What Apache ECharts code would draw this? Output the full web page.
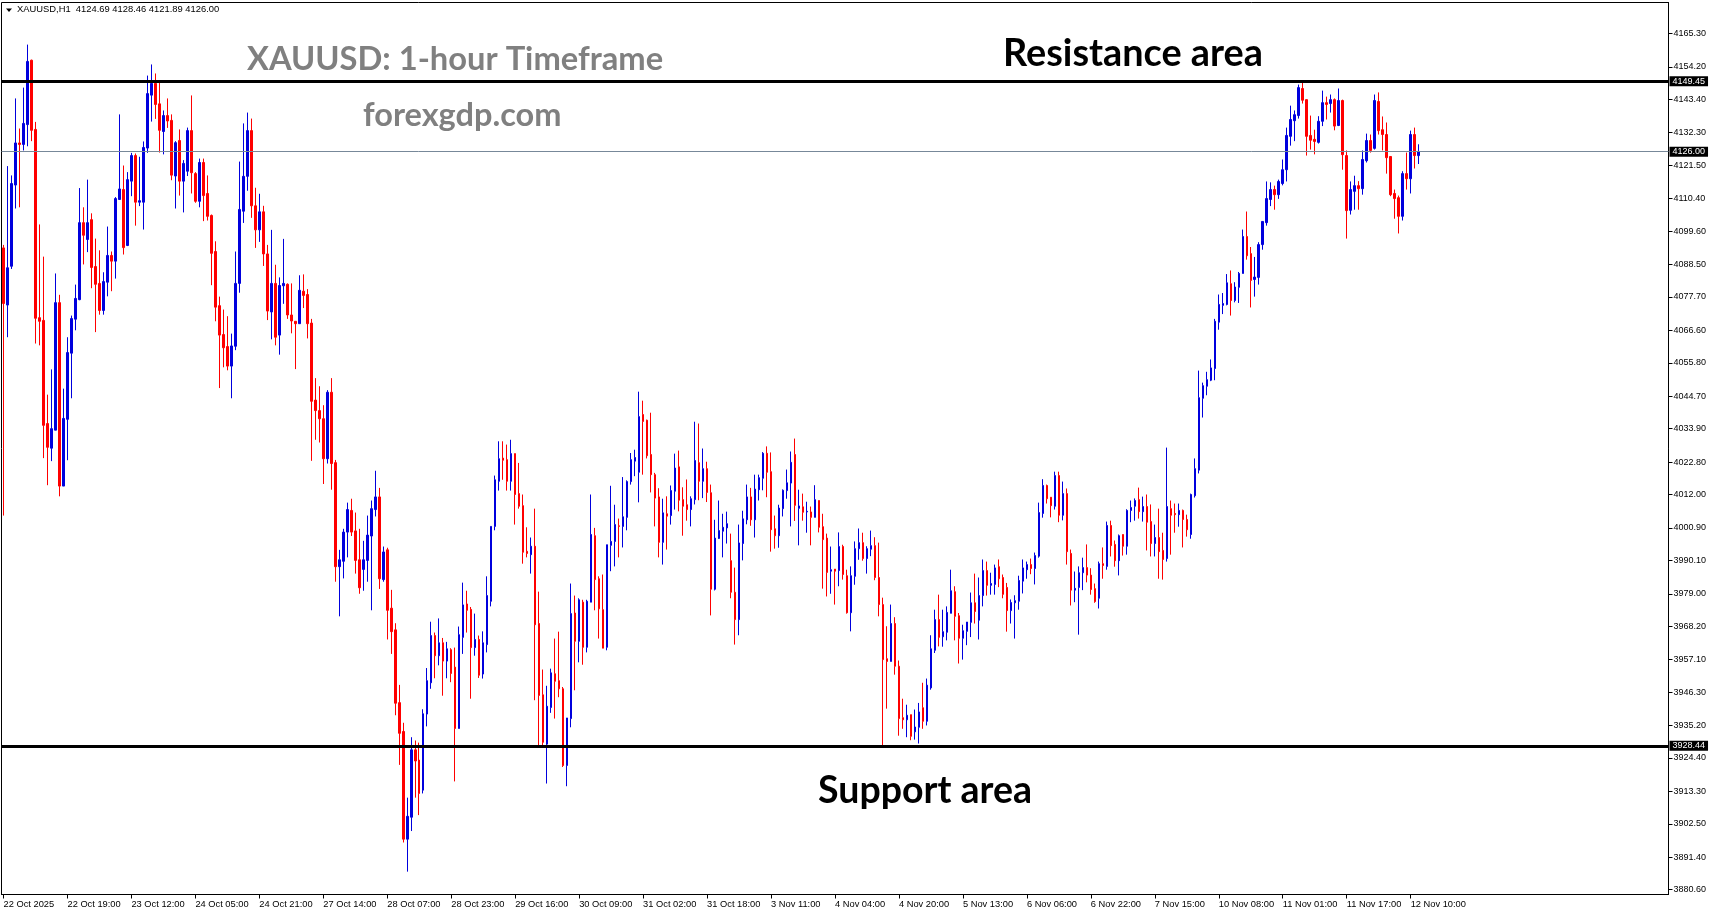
<!DOCTYPE html>
<html><head><meta charset="utf-8">
<script src="https://cdn.jsdelivr.net/npm/echarts@6/dist/echarts.min.js"></script>
<style>html,body{margin:0;padding:0;background:#fff;overflow:hidden}#c{width:1714px;height:915px}</style>
</head><body><div id="c"></div>
<script>
const opens = [
4094.0,4075.0,4087.9,4114.9,4128.9,4128.4,4135.0,4156.4,4133.4,4070.8,
4069.9,4035.6,4027.4,4033.4,4075.8,4014.8,4037.0,4059.0,4070.3,4076.8,
4102.4,4096.8,4103.4,4087.8,4082.2,4073.2,4082.6,4091.5,4089.6,4110.1,
4113.4,4094.8,4116.2,4124.7,4109.2,4109.2,4127.2,4144.8,4148.7,4141.9,
4132.7,4138.0,4136.4,4117.9,4129.7,4116.2,4119.5,4133.0,4118.7,4109.5,
4122.4,4112.1,4104.8,4092.8,4074.8,4065.2,4061.2,4054.7,4061.3,4082.2,
4106.2,4117.8,4133.0,4108.0,4100.0,4106.0,4092.0,4072.7,4082.2,4065.0,
4081.4,4081.9,4071.7,4069.6,4068.8,4079.6,4078.5,4069.0,4043.4,4039.9,
4037.2,4023.9,4046.0,4022.6,3988.0,3989.8,3999.5,4006.7,3999.9,3990.3,
3987.1,3990.1,3998.2,4007.0,4011.2,3983.7,3993.6,3974.2,3967.0,3942.8,
3933.2,3897.4,3904.7,3927.1,3923.7,3913.7,3939.0,3949.4,3965.1,3958.4,
3962.7,3956.6,3960.4,3954.6,3934.2,3964.5,3975.6,3973.8,3961.1,3963.8,
3952.3,3962.1,3976.5,4001.4,4016.4,4024.1,4023.6,4016.4,4025.6,4012.3,
4008.3,3993.1,3992.0,3994.8,3969.1,3945.4,3929.0,3941.2,3952.4,3950.1,
3947.4,3921.9,3937.5,3972.6,3963.2,3976.2,3961.2,3976.2,3998.3,3984.0,
3973.7,3961.2,3995.1,3996.4,4001.6,4001.4,4004.4,4016.3,4023.1,4019.4,
4038.6,4036.7,4025.3,4018.6,4011.2,3996.1,4005.6,4005.0,4013.1,4021.2,
4010.3,4008.6,4007.0,4010.3,4022.6,4016.4,4020.6,4012.6,3980.5,3997.4,
3999.8,4000.9,3990.0,3979.5,3970.4,3995.7,4003.6,4011.2,4003.6,4013.6,
4017.4,4025.7,4019.6,4000.6,3998.3,4007.3,4013.3,4015.8,4025.3,4007.4,
4007.9,4006.2,4006.2,4004.4,4010.0,4001.3,3997.5,3986.5,3987.2,3986.7,
3994.7,3985.0,3972.7,3984.8,3994.0,3996.0,3990.7,3993.8,3995.0,3984.4,
3975.4,3957.4,3956.5,3969.1,3954.9,3937.8,3937.1,3938.8,3933.1,3934.6,
3941.1,3936.6,3947.7,3960.2,3970.4,3964.7,3966.2,3972.5,3979.7,3971.7,
3964.2,3966.5,3969.5,3976.0,3970.2,3978.4,3986.7,3981.8,3982.1,3988.0,
3984.4,3981.1,3973.4,3976.0,3976.5,3983.2,3987.0,3988.7,3987.4,3991.5,
4005.7,4015.0,4011.1,4008.1,4018.3,4005.1,4012.3,3992.4,3980.2,3981.1,
3986.0,3987.7,3985.2,3980.7,3977.5,3989.0,3988.1,4001.7,3995.4,3990.0,
3998.7,3994.8,4006.7,4008.1,4010.3,4006.3,4008.0,4003.0,3995.7,3997.7,
3993.4,3990.7,4007.3,4005.7,4005.3,4006.7,4003.7,3998.7,4011.6,4020.1,
4044.0,4048.0,4050.0,4053.9,4069.3,4074.9,4075.2,4082.1,4076.5,4080.9,
4085.5,4097.8,4092.1,4083.5,4084.2,4095.1,4102.4,4110.1,4113.4,4111.7,
4115.4,4120.0,4131.1,4136.3,4138.0,4147.0,4143.3,4131.4,4130.1,4129.1,
4136.1,4142.3,4142.0,4143.3,4134.7,4143.0,4124.7,4106.5,4112.8,4114.7,
4113.7,4123.0,4129.7,4127.1,4142.7,4133.3,4131.7,4124.4,4112.1,4110.7,
4104.5,4118.7,4117.0,4131.7,4124.69];
const closes = [
4075.5,4087.4,4115.4,4128.9,4128.4,4135.4,4156.0,4133.1,4070.6,4069.6,
4035.0,4027.7,4033.9,4075.8,4014.8,4037.3,4059.2,4070.5,4077.2,4102.4,
4098.2,4102.4,4087.5,4081.9,4073.2,4082.8,4091.5,4089.6,4110.4,4113.6,
4094.1,4116.7,4124.7,4109.2,4109.7,4127.4,4145.3,4148.7,4141.7,4133.1,
4138.0,4136.2,4118.2,4129.0,4116.2,4122.1,4133.0,4119.0,4109.5,4122.4,
4111.4,4104.5,4092.2,4074.3,4065.0,4060.8,4054.7,4061.4,4082.2,4106.8,
4117.8,4133.0,4108.0,4100.0,4106.0,4092.0,4073.0,4082.2,4064.3,4081.5,
4082.2,4071.7,4069.7,4068.8,4079.9,4078.2,4068.8,4043.0,4039.9,4037.2,
4023.9,4046.0,4022.3,3988.0,3990.3,3999.5,4007.0,3999.5,3990.1,3981.0,
3990.3,3998.5,4007.3,4011.2,3984.0,3992.9,3973.5,3966.4,3942.6,3932.6,
3897.4,3905.0,3927.1,3923.4,3912.6,3939.1,3950.1,3965.1,3958.4,3962.7,
3956.6,3960.7,3952.5,3934.2,3965.4,3975.3,3973.5,3961.1,3963.8,3951.9,
3962.7,3978.4,4001.4,4016.9,4023.9,4023.4,4016.4,4025.6,4012.0,4008.1,
3992.8,3992.4,3994.8,3968.7,3945.2,3929.6,3941.6,3952.7,3949.9,3947.4,
3921.9,3937.7,3972.4,3963.2,3977.0,3961.2,3976.5,3998.7,3983.7,3974.0,
3960.9,3995.3,3996.4,4002.0,4001.4,4004.6,4016.3,4023.6,4024.3,4037.9,
4036.3,4024.9,4018.6,4010.8,3996.1,4005.9,4004.8,4013.3,4020.8,4010.1,
4008.1,4007.0,4010.6,4023.3,4016.4,4020.6,4012.7,3980.5,3997.5,4000.0,
4001.1,4002.3,3979.5,3970.4,3995.9,4003.9,4011.2,4003.6,4013.8,4017.6,
4025.7,4019.4,4000.3,3998.3,4007.5,4013.4,4015.9,4022.7,4008.4,4008.2,
4006.1,4006.4,4004.4,4010.3,4001.1,3997.0,3986.1,3987.0,3986.5,3994.7,
3985.4,3972.7,3985.0,3994.0,3996.0,3990.7,3994.0,3995.0,3984.4,3975.4,
3957.1,3956.5,3969.1,3954.9,3937.5,3937.1,3938.6,3931.6,3934.7,3939.7,
3936.6,3948.6,3960.7,3970.4,3964.5,3966.4,3972.8,3980.0,3971.5,3964.2,
3966.7,3969.6,3976.0,3973.1,3978.4,3986.7,3981.8,3982.4,3987.6,3984.0,
3978.8,3973.4,3976.1,3976.7,3983.4,3987.6,3988.7,3987.4,3991.7,4006.0,
4015.0,4010.6,4008.3,4018.3,4005.1,4012.3,3993.0,3980.2,3980.8,3986.0,
3987.7,3985.2,3980.4,3976.4,3989.0,3988.4,4001.7,3995.0,3990.0,3998.3,
3994.8,4006.7,4007.7,4010.0,4006.3,4008.0,4002.8,3995.7,3997.7,3993.0,
3990.4,4008.0,4005.1,4005.3,4006.7,4003.7,4000.3,4012.0,4020.6,4044.2,
4048.2,4050.2,4054.1,4069.6,4075.2,4075.5,4082.4,4076.5,4081.0,4085.5,
4097.8,4091.4,4083.2,4084.3,4095.1,4102.8,4110.4,4113.4,4111.7,4116.1,
4120.0,4131.4,4136.7,4138.3,4147.3,4143.1,4131.1,4129.8,4129.4,4136.1,
4142.3,4141.7,4143.3,4134.5,4143.0,4125.0,4106.4,4113.4,4114.7,4113.7,
4123.4,4129.7,4126.4,4143.0,4133.0,4131.7,4124.0,4111.7,4110.4,4104.5,
4118.7,4117.0,4131.7,4124.7,4126.00];
const lows = [
4005.0,4064.3,4087.0,4107.1,4107.5,4126.4,4127.8,4129.5,4062.2,4061.6,
4024.1,4015.1,4023.1,4033.4,4011.4,4014.8,4023.4,4044.0,4066.6,4076.6,
4088.5,4092.6,4080.6,4066.0,4071.8,4071.8,4077.9,4079.6,4083.8,4110.1,
4091.8,4094.6,4111.2,4101.4,4107.9,4100.1,4125.6,4136.0,4136.9,4125.7,
4125.1,4133.9,4116.5,4107.1,4111.4,4105.8,4117.9,4112.1,4109.0,4107.5,
4102.9,4103.1,4081.6,4069.6,4047.4,4054.3,4053.3,4044.0,4060.0,4079.1,
4102.3,4113.0,4104.0,4094.0,4096.0,4088.0,4070.0,4063.6,4061.6,4058.5,
4075.4,4070.4,4065.6,4053.7,4068.8,4074.0,4063.9,4023.2,4030.2,4029.3,
4015.5,4022.3,4013.6,3983.0,3971.5,3984.1,3991.1,3998.2,3985.7,3979.0,
3980.0,3983.0,3973.5,4004.7,3980.6,3983.0,3963.8,3959.0,3938.6,3922.1,
3896.3,3886.6,3900.1,3911.2,3905.4,3912.6,3934.9,3947.4,3950.9,3955.2,
3945.1,3950.9,3949.6,3916.6,3934.2,3959.0,3966.1,3944.1,3958.4,3951.0,
3950.8,3959.5,3974.8,4000.1,4013.3,4016.9,4013.3,4013.3,4002.0,4007.3,
3989.0,3991.1,3985.7,3943.6,3928.3,3928.3,3915.9,3939.4,3937.5,3944.6,
3921.4,3915.0,3934.6,3946.9,3956.2,3955.4,3959.5,3976.2,3973.5,3964.1,
3960.9,3960.2,3986.5,3988.1,3991.1,3994.4,4000.1,4015.3,4018.1,4009.4,
4018.6,4024.0,4012.7,4001.4,3991.1,3988.7,3993.7,4002.0,4007.0,4006.4,
3998.3,4003.3,4001.4,4008.7,4010.1,4010.8,4009.5,3971.8,3980.1,3997.2,
3991.1,3995.7,3977.5,3962.1,3965.2,3990.1,4002.1,4001.6,3997.7,4010.0,
4013.4,4011.1,3993.0,3994.0,3994.3,4004.7,4010.6,4001.4,4003.2,3995.1,
4003.3,3999.3,3995.1,4004.4,3999.4,3980.7,3978.1,3979.0,3975.4,3981.5,
3983.7,3972.4,3966.5,3982.0,3990.3,3990.0,3985.7,3991.5,3983.5,3971.5,
3928.3,3940.8,3956.5,3952.1,3931.8,3934.1,3931.3,3930.3,3930.5,3929.2,
3934.1,3935.2,3947.1,3959.3,3961.5,3961.4,3963.5,3972.5,3963.5,3955.8,
3957.1,3961.9,3964.6,3969.1,3963.8,3974.8,3978.4,3978.7,3978.7,3981.2,
3977.5,3966.4,3969.1,3964.1,3973.7,3979.1,3984.0,3985.5,3982.1,3991.0,
4004.3,4009.0,4004.4,4007.0,4002.8,4003.4,3988.7,3975.1,3976.2,3965.4,
3980.2,3982.8,3978.7,3976.0,3974.1,3984.0,3987.0,3991.4,3988.0,3985.1,
3991.7,3992.0,4002.8,4003.3,4004.0,4003.0,3993.4,3991.4,3991.4,3984.0,
3983.7,3989.7,3992.0,3999.3,4001.3,3994.4,3998.0,3997.3,4011.0,4019.0,
4037.6,4045.0,4049.7,4050.0,4066.8,4072.0,4074.9,4071.5,4075.9,4075.7,
4085.5,4090.1,4074.2,4077.8,4081.8,4093.4,4101.4,4107.9,4106.7,4110.3,
4114.8,4116.1,4128.0,4129.5,4137.0,4142.0,4124.7,4126.7,4125.1,4128.7,
4134.5,4136.7,4139.0,4133.1,4134.5,4120.0,4097.1,4105.1,4106.7,4106.7,
4111.7,4122.4,4125.7,4126.7,4131.7,4126.4,4118.7,4111.2,4103.7,4098.8,
4103.1,4113.4,4112.1,4120.4,4121.89];
const highs = [
4095.0,4121.2,4118.1,4143.7,4133.7,4147.3,4161.6,4156.6,4135.9,4101.8,
4091.1,4045.2,4053.6,4085.5,4078.4,4047.2,4064.3,4071.5,4081.8,4113.9,
4107.5,4116.7,4105.5,4097.1,4093.2,4085.9,4101.1,4092.8,4110.9,4138.4,
4121.4,4119.2,4125.6,4125.4,4124.3,4129.4,4151.3,4155.0,4152.0,4149.6,
4139.7,4143.7,4138.4,4129.5,4133.4,4123.2,4134.0,4144.7,4119.2,4123.7,
4123.7,4118.1,4105.1,4096.2,4077.8,4073.5,4071.3,4065.5,4092.8,4122.7,
4135.4,4139.0,4137.0,4114.0,4112.0,4108.0,4095.0,4100.0,4088.4,4084.2,
4097.0,4082.2,4082.2,4069.6,4084.9,4085.2,4080.3,4070.4,4050.7,4048.0,
4041.7,4046.7,4050.7,4023.5,3993.6,4000.6,4009.3,4010.6,4006.0,4000.6,
3996.6,4005.0,4010.0,4019.9,4014.2,3994.7,3994.3,3980.3,3969.2,3948.7,
3936.1,3911.2,3931.3,3930.2,3929.5,3940.6,3954.3,3969.7,3966.1,3970.8,
3964.3,3963.0,3960.9,3961.1,3968.1,3982.7,3980.0,3974.6,3972.4,3965.1,
3966.5,3984.8,4001.4,4018.3,4029.7,4029.7,4028.6,4030.2,4025.6,4022.5,
4012.0,4001.1,3997.7,4007.3,3979.7,3953.8,3948.4,3954.1,3964.1,3966.4,
3948.0,3937.7,3982.4,3978.4,3977.5,3977.0,3977.0,4012.0,4000.9,3984.8,
3985.4,3995.3,4014.9,4008.6,4004.0,4017.8,4016.7,4025.8,4026.9,4046.2,
4043.2,4036.9,4039.2,4019.2,4014.1,4010.6,4011.4,4015.0,4025.6,4026.6,
4014.4,4017.0,4011.4,4036.2,4035.6,4027.3,4022.9,4015.3,4003.6,4010.0,
4005.6,4006.3,3999.0,3987.7,4002.0,4006.6,4015.3,4014.2,4018.6,4018.6,
4026.1,4028.0,4026.0,4005.0,4008.6,4013.7,4020.3,4026.3,4030.6,4013.6,
4012.3,4009.6,4008.0,4015.1,4010.0,4005.6,3999.0,3994.7,3987.2,3999.4,
3995.3,3987.0,3988.1,3996.4,4000.7,3999.3,3994.8,4000.0,3997.8,3996.0,
3977.7,3968.2,3975.4,3971.2,3956.8,3944.1,3942.1,3938.8,3940.5,3942.7,
3949.4,3950.8,3965.2,3973.7,3978.7,3973.7,3974.8,3987.0,3981.5,3972.6,
3968.7,3969.6,3979.4,3985.7,3984.4,3990.4,3989.7,3986.0,3988.7,3990.4,
3985.4,3982.6,3977.1,3978.5,3985.0,3990.4,3989.7,3990.7,3992.7,4009.3,
4017.1,4015.3,4011.1,4019.6,4019.6,4016.3,4014.0,3993.7,3986.4,3988.1,
3991.0,3995.4,3987.5,3982.4,3989.7,3994.4,4003.0,4003.3,3996.7,3998.7,
3998.7,4007.1,4010.0,4010.7,4014.3,4011.3,4012.0,4008.7,4002.0,4007.3,
3999.3,4027.6,4010.0,4009.0,4009.0,4007.0,4005.3,4012.3,4024.0,4053.2,
4049.2,4052.8,4056.9,4070.4,4078.5,4079.0,4085.3,4086.5,4082.6,4086.0,
4100.1,4106.1,4094.3,4091.0,4095.9,4102.8,4116.1,4115.8,4114.7,4116.7,
4123.4,4134.0,4141.3,4139.7,4148.3,4149.1,4143.3,4138.0,4133.3,4137.8,
4146.3,4144.3,4145.0,4143.7,4147.0,4143.3,4126.4,4116.1,4118.0,4116.2,
4126.4,4132.0,4131.7,4145.0,4145.7,4137.7,4135.7,4124.4,4113.4,4111.4,
4119.5,4125.7,4133.0,4134.0,4128.46];

const tickLabels = ['22 Oct 2025','22 Oct 19:00','23 Oct 12:00','24 Oct 05:00','24 Oct 21:00','27 Oct 14:00',
'28 Oct 07:00','28 Oct 23:00','29 Oct 16:00','30 Oct 09:00','31 Oct 02:00','31 Oct 18:00','3 Nov 11:00',
'4 Nov 04:00','4 Nov 20:00','5 Nov 13:00','6 Nov 06:00','6 Nov 22:00','7 Nov 15:00','10 Nov 08:00',
'11 Nov 01:00','11 Nov 17:00','12 Nov 10:00'];
const barsPerTick = 16;
const yTicks = [4165.30,4154.20,4143.40,4132.30,4121.50,4110.40,4099.60,4088.50,4077.70,4066.60,4055.80,
4044.70,4033.90,4022.80,4012.00,4000.90,3990.10,3979.00,3968.20,3957.10,3946.30,3935.20,3924.40,
3913.30,3902.50,3891.40,3880.60];
const resistanceLevel = 4149.45;
const supportLevel = 3928.44;
const lastPrice = 4126.00;
const yMin = 3879.0, yMax = 4175.6;
const totalSlots = 417;

const cats = [];
for (let i = 0; i < totalSlots; i++) cats.push(String(i));
const candles = opens.map((o, i) => [o, closes[i], lows[i], highs[i]]);

const BULL = '#0000dd', BEAR = '#ff0000';
const FONT = 'Liberation Sans';
const chart = echarts.init(document.getElementById('c'), null, {renderer: 'canvas'});

chart.setOption({
  animation: false,
  backgroundColor: '#ffffff',
  grid: {left: 1.5, right: 45.5, top: 2.5, bottom: 20.5, show: true, borderColor: '#000', borderWidth: 1, backgroundColor: 'transparent'},
  xAxis: {
    type: 'category', data: cats, boundaryGap: true,
    axisLine: {show: true, lineStyle: {color: '#000', width: 1}},
    axisTick: {show: true, alignWithLabel: true, length: 4, lineStyle: {color: '#000'},
      interval: (idx) => idx % barsPerTick === 0 && idx / barsPerTick < tickLabels.length},
    axisLabel: {show: true, align: 'left', margin: 5, color: '#000', fontFamily: FONT, fontSize: 9.3,
      interval: (idx) => idx % barsPerTick === 0 && idx / barsPerTick < tickLabels.length,
      formatter: (v, idx) => tickLabels[idx / barsPerTick] || ''},
    splitLine: {show: false}
  },
  yAxis: {
    type: 'value', position: 'right', min: yMin, max: yMax, scale: true,
    axisLine: {show: true, lineStyle: {color: '#000', width: 1}},
    axisTick: {show: true, length: 4, lineStyle: {color: '#000'}, customValues: yTicks},
    axisLabel: {show: true, margin: 5, color: '#000', fontFamily: FONT, fontSize: 9,
      customValues: yTicks, formatter: (v) => v.toFixed(2)},
    splitLine: {show: false}
  },
  series: [{
    type: 'candlestick',
    data: candles,
    barWidth: 2,
    itemStyle: {color: BULL, color0: BEAR, borderColor: BULL, borderColor0: BEAR, borderWidth: 1},
    markLine: {
      silent: true, symbol: ['none', 'none'], animation: false,
      label: {show: true, position: 'end', distance: 1, formatter: (p) => p.value.toFixed(2),
        color: '#fff', backgroundColor: '#000', fontFamily: FONT, fontSize: 9, padding: [1, 3, 0, 3]},
      data: [
        {yAxis: resistanceLevel, lineStyle: {color: '#000', width: 3, type: 'solid'}},
        {yAxis: supportLevel, lineStyle: {color: '#000', width: 3, type: 'solid'}},
        {yAxis: lastPrice, lineStyle: {color: '#778899', width: 1, type: 'solid'}}
      ]
    }
  }],
  graphic: [
    {type: 'polygon', shape: {points: [[6, 8.5], [12, 8.5], [9, 12]]}, style: {fill: '#000'}},
    {type: 'text', left: 17, top: 5, style: {text: 'XAUUSD,H1  4124.69 4128.46 4121.89 4126.00', fill: '#000', font: '9.4px "Liberation Sans"'}},
    {type: 'text', left: 247, top: 43, style: {text: 'XAUUSD: 1-hour Timeframe', fill: '#808080', font: 'bold 32.7px Lato'}},
    {type: 'text', left: 363, top: 99, style: {text: 'forexgdp.com', fill: '#808080', font: 'bold 32.5px Lato'}},
    {type: 'text', left: 1003, top: 35, style: {text: 'Resistance area', fill: '#000', font: 'bold 37.8px Lato'}},
    {type: 'text', left: 818, top: 772, style: {text: 'Support area', fill: '#000', font: 'bold 37.5px Lato'}}
  ]
});
</script>
</body></html>
